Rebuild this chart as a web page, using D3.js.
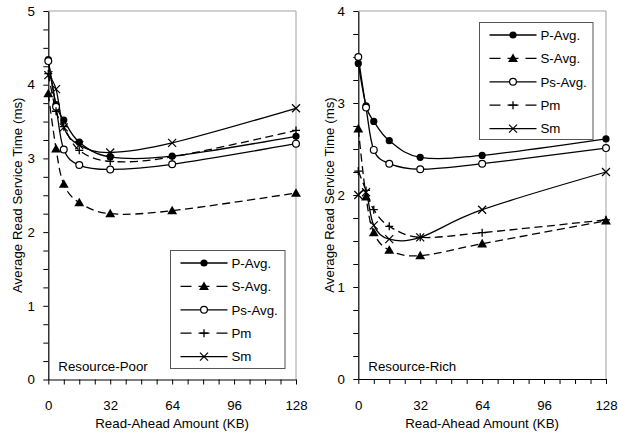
<!DOCTYPE html>
<html>
<head>
<meta charset="utf-8">
<script src="https://cdn.jsdelivr.net/npm/d3@7"></script>
<style>
  html, body { margin: 0; padding: 0; background: #fff; }
  svg { display: block; font-family: "Liberation Sans", Arial, sans-serif; }
</style>
</head>
<body>
<svg id="chart" width="618" height="438"></svg>
<script>
// Read-ahead amounts (KB) on the x axis
const readAhead = [0, 4, 8, 16, 32, 64, 128];
const seriesNames = ["P-Avg.", "S-Avg.", "Ps-Avg.", "Pm", "Sm"];
const xTicks = [0, 32, 64, 96, 128];
const poorYTicks = [0, 1, 2, 3, 4, 5];
const richYTicks = [0, 1, 2, 3, 4];

// Average read service time (ms), resource-poor configuration
const poorPAvg  = [4.34, 3.73, 3.52, 3.22, 3.02, 3.03, 3.30];
const poorSAvg  = [3.88, 3.13, 2.65, 2.40, 2.25, 2.29, 2.53];
const poorPsAvg = [4.32, 3.70, 3.12, 2.91, 2.85, 2.92, 3.20];
const poorPm    = [4.15, 3.64, 3.43, 3.11, 2.96, 3.02, 3.38];
const poorSm    = [4.13, 3.94, 3.42, 3.18, 3.08, 3.21, 3.68];

// Average read service time (ms), resource-rich configuration
const richPAvg  = [3.43, 2.97, 2.80, 2.59, 2.41, 2.43, 2.61];
const richSAvg  = [2.72, 1.98, 1.59, 1.40, 1.34, 1.47, 1.72];
const richPsAvg = [3.50, 2.95, 2.49, 2.34, 2.28, 2.34, 2.51];
const richPm    = [2.26, 2.05, 1.84, 1.66, 1.54, 1.59, 1.73];
const richSm    = [2.00, 2.03, 1.67, 1.52, 1.54, 1.84, 2.25];

const styles = {
  "P-Avg.":  { dash: null,  marker: "dot" },
  "S-Avg.":  { dash: "8,4.5", marker: "tri" },
  "Ps-Avg.": { dash: null,  marker: "ring" },
  "Pm":      { dash: "8,4.5", marker: "plus" },
  "Sm":      { dash: null,  marker: "cross" }
};

const FONT = 13.3;
const svg = d3.select("#chart");

function drawMarker(g, type, x, y) {
  if (type === "dot") {
    g.append("circle").attr("cx", x).attr("cy", y).attr("r", 3.6).attr("fill", "#000");
  } else if (type === "ring") {
    g.append("circle").attr("cx", x).attr("cy", y).attr("r", 3.4)
      .attr("fill", "#fff").attr("stroke", "#000").attr("stroke-width", 1.2);
  } else if (type === "tri") {
    g.append("path").attr("d", d3.symbol(d3.symbolTriangle, 42)())
      .attr("transform", `translate(${x},${y + 0.8})`).attr("fill", "#000");
  } else if (type === "plus") {
    g.append("path").attr("d", `M${x - 4},${y}H${x + 4}M${x},${y - 4}V${y + 4}`)
      .attr("stroke", "#000").attr("stroke-width", 1.3);
  } else if (type === "cross") {
    g.append("path").attr("d", `M${x - 4},${y - 4}L${x + 4},${y + 4}M${x - 4},${y + 4}L${x + 4},${y - 4}`)
      .attr("stroke", "#000").attr("stroke-width", 1.2);
  }
}

function panel(opts) {
  const x = d3.scaleLinear().domain([0, 128]).range([opts.x0, opts.x1]);
  const y = d3.scaleLinear().domain([0, opts.yMax]).range([opts.y0, opts.y1]);
  const g = svg.append("g");

  // frame (top and right sides)
  g.append("path")
    .attr("d", `M${opts.x0},${opts.y1}H${opts.x1}V${opts.y0}`)
    .attr("fill", "none").attr("stroke", "#a0a0a0").attr("stroke-width", 1);

  // x axis
  const xMinor = d3.range(0, 129, 8);
  const xa = g.append("g").attr("transform", `translate(0,${opts.y0})`)
    .call(d3.axisBottom(x).tickValues(xMinor).tickSize(5).tickSizeOuter(0)
      .tickFormat(d => xTicks.includes(d) ? d : ""));
  xa.select(".domain").attr("stroke", "#000").attr("stroke-width", 1.2);
  xa.selectAll(".tick line").attr("stroke", "#000");
  xa.selectAll(".tick text").attr("font-size", FONT).attr("fill", "#000")
    .attr("font-family", "Liberation Sans, Arial, sans-serif").attr("dy", 0).attr("y", 30.5);

  // y axis
  const yMinor = d3.range(0, opts.yMax + 0.001, 0.25);
  const ya = g.append("g").attr("transform", `translate(${opts.x0},0)`)
    .call(d3.axisLeft(y).tickValues(yMinor).tickSize(5).tickSizeOuter(0)
      .tickFormat(d => opts.yTicks.includes(d) ? d : ""));
  ya.select(".domain").attr("stroke", "#000").attr("stroke-width", 1.2);
  ya.selectAll(".tick line").attr("stroke", "#000");
  ya.selectAll(".tick text").attr("font-size", FONT).attr("fill", "#000")
    .attr("font-family", "Liberation Sans, Arial, sans-serif").attr("x", -13.5);

  // axis titles
  g.append("text").attr("x", (opts.x0 + opts.x1) / 2).attr("y", 427.5)
    .attr("text-anchor", "middle").attr("font-size", FONT).text("Read-Ahead Amount (KB)");
  g.append("text")
    .attr("transform", `translate(${opts.titleX},${(opts.y0 + opts.y1) / 2}) rotate(-90)`)
    .attr("text-anchor", "middle").attr("font-size", FONT)
    .text("Average Read Service Time (ms)");

  // panel caption
  g.append("text").attr("x", opts.x0 + 10).attr("y", 371)
    .attr("font-size", FONT).text(opts.caption);

  // series
  const line = d3.line().x((d, i) => x(readAhead[i])).y(d => y(d))
    .curve(d3.curveCatmullRom.alpha(0));
  opts.series.forEach((vals, si) => {
    const st = styles[seriesNames[si]];
    g.append("path").datum(vals).attr("d", line)
      .attr("fill", "none").attr("stroke", "#000").attr("stroke-width", 1.3)
      .attr("stroke-dasharray", st.dash);
  });
  opts.series.forEach((vals, si) => {
    const st = styles[seriesNames[si]];
    const mg = g.append("g");
    vals.forEach((v, i) => drawMarker(mg, st.marker, x(readAhead[i]), y(v)));
  });

  // legend
  const L = opts.legend;
  const lg = g.append("g");
  lg.append("rect").attr("x", L.x).attr("y", L.y).attr("width", L.w).attr("height", L.h)
    .attr("fill", "#fff").attr("stroke", "#555").attr("stroke-width", 1);
  seriesNames.forEach((name, i) => {
    const st = styles[name];
    const cy = L.y + 12.5 + i * 23.4;
    lg.append("line").attr("x1", L.x + 10).attr("x2", L.x + 57).attr("y1", cy).attr("y2", cy)
      .attr("stroke", "#000").attr("stroke-width", 1.3)
      .attr("stroke-dasharray", st.dash ? "11,7" : null);
    drawMarker(lg, st.marker, L.x + 33.5, cy);
    lg.append("text").attr("x", L.x + 61).attr("y", cy + 4.7).attr("font-size", FONT).text(name);
  });
}

panel({
  x0: 48.3, x1: 296, y0: 379.5, y1: 11, yMax: 5, yTicks: poorYTicks,
  titleX: 21.5, caption: "Resource-Poor",
  series: [poorPAvg, poorSAvg, poorPsAvg, poorPm, poorSm],
  legend: { x: 170.5, y: 250.5, w: 114.5, h: 118 }
});

panel({
  x0: 358.3, x1: 606, y0: 379, y1: 11, yMax: 4, yTicks: richYTicks,
  titleX: 333.5, caption: "Resource-Rich",
  series: [richPAvg, richSAvg, richPsAvg, richPm, richSm],
  legend: { x: 479.5, y: 22.5, w: 113.5, h: 117 }
});
</script>
</body>
</html>
